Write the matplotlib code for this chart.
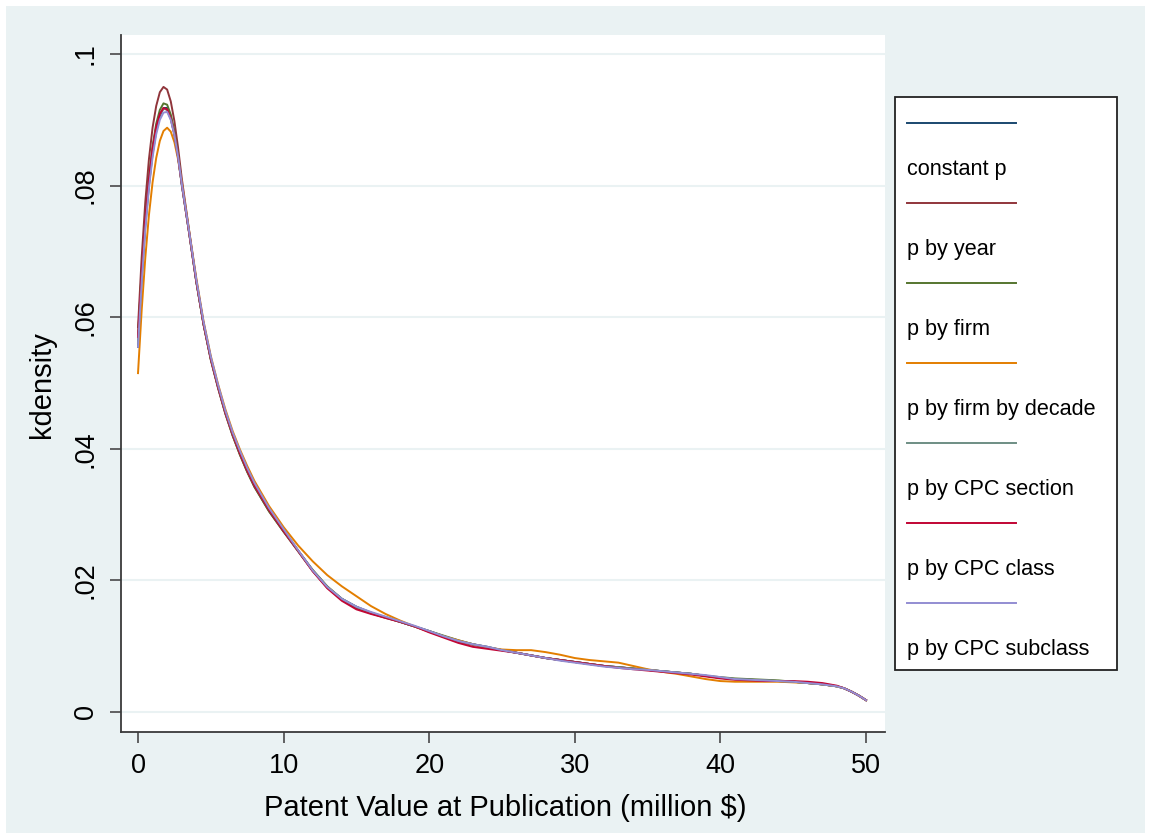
import matplotlib
matplotlib.use("Agg")
import matplotlib.pyplot as plt
from matplotlib.patches import Rectangle
from matplotlib.lines import Line2D

# ---------------- data ----------------
x_grid = [0, 0.25, 0.5, 0.75, 1.0, 1.25, 1.5, 1.75, 2.0, 2.25, 2.5, 2.75, 3.0,
          3.5, 4.0, 4.5, 5.0, 5.5, 6.0, 6.5, 7.0, 7.5, 8.0,
          9, 10, 11, 12, 13, 14, 15, 16, 17, 18, 19, 20, 21, 22, 23, 24, 25, 26, 27, 28,
          29, 30, 31, 32, 33, 34, 35, 36, 37, 38, 39, 40, 41, 42, 43, 44, 45, 46, 47, 48,
          48.5, 49, 49.5, 50]

constant_p = [0.0555, 0.0655, 0.0738, 0.0800, 0.0848, 0.0883, 0.0906, 0.0918, 0.0918, 0.0905, 0.0880, 0.0845, 0.0803,
              0.0730, 0.0655, 0.0590, 0.0537, 0.0494, 0.0455, 0.0422, 0.0394, 0.0368, 0.0345,
              0.0308, 0.0276, 0.0245, 0.0215, 0.0190, 0.0172, 0.0160, 0.0151, 0.0144, 0.0137, 0.0130, 0.0123, 0.0115, 0.0108,
              0.0103, 0.0099, 0.0094, 0.0090, 0.0086, 0.0082, 0.0079, 0.0076, 0.0073, 0.0070, 0.0068, 0.0066, 0.0064, 0.0062,
              0.0060, 0.0058, 0.0055, 0.0052, 0.0050, 0.0049, 0.0048, 0.0047, 0.0046, 0.0044, 0.0042, 0.0039,
              0.0036, 0.0031, 0.0025, 0.0018]

p_by_year = [0.0585, 0.0690, 0.0775, 0.0840, 0.0888, 0.0921, 0.0942, 0.0950, 0.0946, 0.0928, 0.0898, 0.0858, 0.0812,
             0.0733, 0.0656, 0.0589, 0.0535, 0.0492, 0.0453, 0.0420, 0.0391, 0.0365, 0.0342,
             0.0305, 0.0274, 0.0244, 0.0214, 0.0189, 0.0171, 0.0158, 0.0150, 0.0143, 0.0137, 0.0130, 0.0122, 0.0114, 0.0107,
             0.0102, 0.0098, 0.0094, 0.0090, 0.0086, 0.0082, 0.0079, 0.0076, 0.0073, 0.0070, 0.0068, 0.0066, 0.0064, 0.0062,
             0.0060, 0.0058, 0.0055, 0.0052, 0.0050, 0.0049, 0.0048, 0.0047, 0.0046, 0.0044, 0.0042, 0.0039,
             0.0036, 0.0031, 0.0025, 0.0018]

p_by_firm = [0.0570, 0.0670, 0.0752, 0.0813, 0.0860, 0.0894, 0.0915, 0.0925, 0.0923, 0.0908, 0.0882, 0.0846, 0.0804,
             0.0730, 0.0654, 0.0589, 0.0536, 0.0493, 0.0454, 0.0420, 0.0391, 0.0365, 0.0342,
             0.0305, 0.0274, 0.0245, 0.0216, 0.0191, 0.0172, 0.0159, 0.0150, 0.0144, 0.0137, 0.0130, 0.0123, 0.0116, 0.0109,
             0.0103, 0.0098, 0.0094, 0.0090, 0.0086, 0.0082, 0.0079, 0.0076, 0.0073, 0.0070, 0.0068, 0.0066, 0.0064, 0.0062,
             0.0060, 0.0058, 0.0055, 0.0053, 0.0051, 0.0050, 0.0049, 0.0048, 0.0046, 0.0044, 0.0042, 0.0039,
             0.0036, 0.0031, 0.0025, 0.0018]

p_by_firm_decade = [0.0515, 0.0610, 0.0690, 0.0755, 0.0805, 0.0842, 0.0868, 0.0883, 0.0888, 0.0882, 0.0866, 0.0840, 0.0806,
                    0.0733, 0.0660, 0.0594, 0.0541, 0.0498, 0.0460, 0.0427, 0.0399, 0.0374, 0.0351,
                    0.0313, 0.0281, 0.0253, 0.0229, 0.0208, 0.0191, 0.0176, 0.0161, 0.0149, 0.0139, 0.0130, 0.0122, 0.0115, 0.0109,
                    0.0103, 0.0098, 0.0095, 0.0094, 0.0094, 0.0091, 0.0087, 0.0082, 0.0079, 0.0077, 0.0075, 0.0070, 0.0065, 0.0061,
                    0.0058, 0.0054, 0.0050, 0.0047, 0.0046, 0.0046, 0.0046, 0.0046, 0.0045, 0.0044, 0.0042, 0.0039,
                    0.0036, 0.0031, 0.0025, 0.0018]

p_by_cpc_section = [0.0562, 0.0662, 0.0745, 0.0806, 0.0853, 0.0887, 0.0908, 0.0917, 0.0915, 0.0901, 0.0877, 0.0843, 0.0802,
                    0.0730, 0.0655, 0.0590, 0.0537, 0.0494, 0.0455, 0.0422, 0.0394, 0.0368, 0.0345,
                    0.0308, 0.0276, 0.0245, 0.0215, 0.0190, 0.0172, 0.0160, 0.0151, 0.0144, 0.0137, 0.0130, 0.0123, 0.0115, 0.0108,
                    0.0103, 0.0099, 0.0094, 0.0090, 0.0086, 0.0082, 0.0079, 0.0076, 0.0073, 0.0070, 0.0068, 0.0066, 0.0064, 0.0062,
                    0.0060, 0.0058, 0.0055, 0.0052, 0.0050, 0.0049, 0.0048, 0.0047, 0.0046, 0.0044, 0.0042, 0.0039,
                    0.0036, 0.0031, 0.0025, 0.0018]

p_by_cpc_class = [0.0570, 0.0668, 0.0750, 0.0810, 0.0856, 0.0889, 0.0909, 0.0918, 0.0916, 0.0902, 0.0878, 0.0844, 0.0803,
                  0.0730, 0.0655, 0.0590, 0.0537, 0.0494, 0.0455, 0.0422, 0.0393, 0.0367, 0.0344,
                  0.0307, 0.0275, 0.0245, 0.0214, 0.0188, 0.0169, 0.0156, 0.0149, 0.0143, 0.0137, 0.0130, 0.0121, 0.0113, 0.0105,
                  0.0099, 0.0096, 0.0093, 0.0090, 0.0086, 0.0082, 0.0079, 0.0076, 0.0073, 0.0070, 0.0067, 0.0065, 0.0063, 0.0061,
                  0.0059, 0.0057, 0.0054, 0.0051, 0.0049, 0.0048, 0.0047, 0.0047, 0.0047, 0.0046, 0.0044, 0.0040,
                  0.0036, 0.0031, 0.0025, 0.0018]

p_by_cpc_subclass = [0.0555, 0.0652, 0.0734, 0.0796, 0.0843, 0.0878, 0.0900, 0.0911, 0.0912, 0.0900, 0.0877, 0.0844, 0.0804,
                     0.0732, 0.0658, 0.0593, 0.0540, 0.0497, 0.0458, 0.0425, 0.0397, 0.0371, 0.0348,
                     0.0310, 0.0278, 0.0246, 0.0215, 0.0190, 0.0172, 0.0160, 0.0152, 0.0145, 0.0138, 0.0131, 0.0123, 0.0115, 0.0108,
                     0.0103, 0.0099, 0.0094, 0.0090, 0.0086, 0.0082, 0.0078, 0.0075, 0.0072, 0.0069, 0.0067, 0.0065, 0.0064, 0.0062,
                     0.0060, 0.0058, 0.0056, 0.0053, 0.0050, 0.0049, 0.0048, 0.0047, 0.0046, 0.0044, 0.0042, 0.0039,
                     0.0036, 0.0031, 0.0025, 0.0018]

series = [constant_p, p_by_year, p_by_firm, p_by_firm_decade,
          p_by_cpc_section, p_by_cpc_class, p_by_cpc_subclass]
labels = ["constant p", "p by year", "p by firm", "p by firm by decade",
          "p by CPC section", "p by CPC class", "p by CPC subclass"]
colors = ["#1a476f", "#90353b", "#55752f", "#e37e00", "#6e8e84", "#c10534", "#938dd2"]

x_ticks = [0, 10, 20, 30, 40, 50]
y_ticks = [0, 0.02, 0.04, 0.06, 0.08, 0.1]
y_ticklabels = ["0", ".02", ".04", ".06", ".08", ".1"]

# ---------------- figure ----------------
W, H = 1151, 839
BG = "#EAF2F3"
plt.rcParams["font.family"] = ["Liberation Sans", "DejaVu Sans"]

fig = plt.figure(figsize=(W / 100, H / 100), dpi=100, facecolor="white")
fig.patches.append(Rectangle((6 / W, 6 / H), (1145 - 6) / W, (833 - 6) / H,
                             transform=fig.transFigure, facecolor=BG,
                             edgecolor="none", zorder=-10))

def fx(px):
    return px / W

def fy(py):
    return (H - py) / H

ax = fig.add_axes([fx(121), fy(732), (885 - 121) / W, (732 - 35) / H])
ax.set_facecolor("white")

for ys, col in zip(series, colors):
    ax.plot(x_grid, ys, color=col, lw=1.4, solid_joinstyle="round", zorder=3)

ax.set_xlim(-1.168, 51.305)
ax.set_ylim(-0.00304, 0.10289)
ax.set_xticks(x_ticks)
ax.set_xticklabels([str(t) for t in x_ticks])
ax.set_yticks(y_ticks)
ax.set_yticklabels(y_ticklabels, rotation=90, va="center")
ax.grid(axis="y", color=BG, lw=1.5, zorder=0)
ax.set_axisbelow(True)

for s in ["top", "right"]:
    ax.spines[s].set_visible(False)
for s in ["left", "bottom"]:
    ax.spines[s].set_color("#3a3a3a")
    ax.spines[s].set_linewidth(1.3)

ax.tick_params(axis="both", length=8, width=1.1, color="#3a3a3a", labelsize=19.5, labelcolor="black")
ax.tick_params(axis="x", pad=7)
ax.tick_params(axis="y", pad=8)

fig.text(fx(505), fy(808), "Patent Value at Publication (million $)", ha="center", va="center", fontsize=21)
fig.text(fx(42), fy(385), "kdensity", ha="center", va="center", rotation=90, fontsize=21)

# ---------------- legend (Stata-style layout) ----------------
fig.patches.append(Rectangle((fx(895), fy(670)), (1117 - 895) / W, (670 - 97) / H,
                             transform=fig.transFigure, facecolor="white",
                             edgecolor="#222222", lw=1.3, zorder=5))
for i, (lab, col) in enumerate(zip(labels, colors)):
    yl = 123 + 80 * i
    fig.lines.append(Line2D([fx(907), fx(1016)], [fy(yl), fy(yl)], transform=fig.transFigure,
                            color=col, lw=1.4, zorder=6))
    fig.text(fx(907), fy(yl + 47), lab, ha="left", va="center", fontsize=15.6, zorder=7)

fig.savefig("out.png", dpi=100, facecolor=fig.get_facecolor())
